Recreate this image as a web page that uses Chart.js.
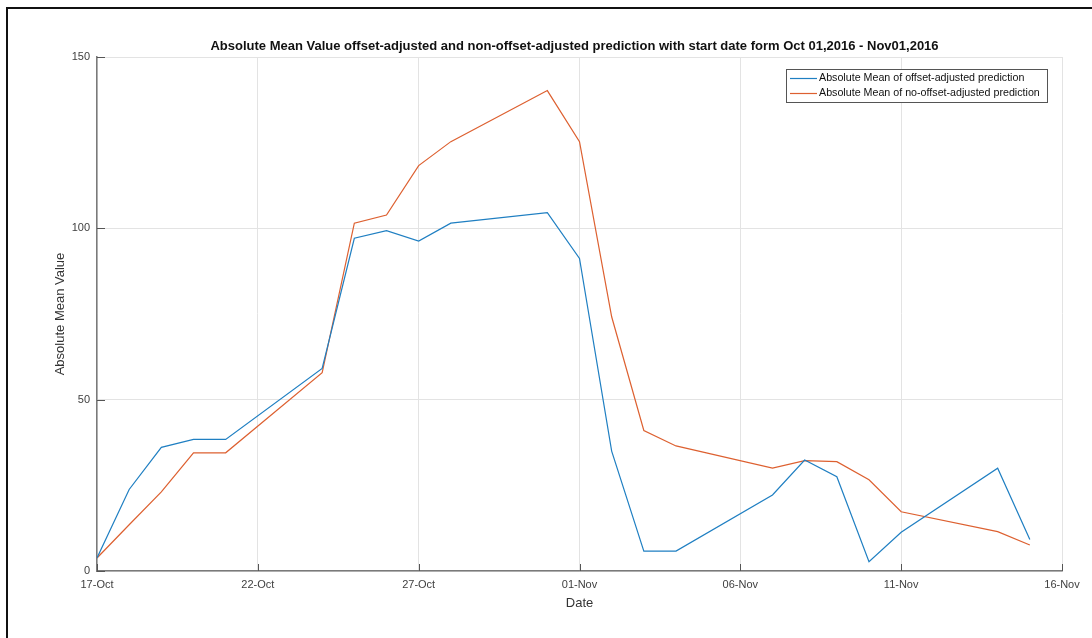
<!DOCTYPE html>
<html>
<head>
<meta charset="utf-8">
<script src="https://cdn.jsdelivr.net/npm/chart.js@4.4.0/dist/chart.umd.min.js"></script>
<style>
  html, body { margin: 0; padding: 0; background: #fff; }
  #wrap { position: relative; width: 1092px; height: 638px; overflow: hidden; }
  #frame {
    position: absolute; left: 6px; top: 7px; right: -4px; bottom: -4px;
    border-left: 2px solid #111; border-top: 2px solid #111;
    pointer-events: none;
  }
</style>
</head>
<body>
<div id="wrap">
  <canvas id="chart" width="1092" height="638"></canvas>
  <div id="frame"></div>
</div>
<script>
// days since 17-Oct (weekdays only)
const dayOffsets = [0, 1, 2, 3, 4, 7, 8, 9, 10, 11, 14, 15, 16, 17, 18, 21, 22, 23, 24, 25, 28, 29];
const offsetAdjusted = [3.8, 23.8, 36.1, 38.4, 38.4, 59.1, 97.1, 99.3, 96.3, 101.5, 104.6, 91.2, 35.0, 5.8, 5.8, 22.2, 32.4, 27.5, 2.7, 11.3, 30.0, 9.2];
const noOffsetAdjusted = [3.8, 13.5, 23.1, 34.5, 34.5, 57.9, 101.5, 103.9, 118.3, 125.3, 140.2, 125.3, 74.2, 41.0, 36.5, 30.0, 32.2, 31.9, 26.6, 17.3, 11.5, 7.6];
const tickLabels = ["17-Oct", "22-Oct", "27-Oct", "01-Nov", "06-Nov", "11-Nov", "16-Nov"];
const seriesNames = ["Absolute Mean of offset-adjusted prediction", "Absolute Mean of no-offset-adjusted prediction"];
const titleText = "Absolute Mean Value offset-adjusted and non-offset-adjusted prediction with start date form Oct 01,2016 - Nov01,2016";

const FONT = "'Liberation Sans', Arial, sans-serif";

function toPoints(values) {
  return dayOffsets.map((d, i) => ({ x: d, y: values[i] }));
}

// title, inward ticks and boxed legend, MATLAB style
const matlabBits = {
  id: "matlabBits",
  afterDraw(chart) {
    const ctx = chart.ctx;
    const area = chart.chartArea;
    const xs = chart.scales.x;
    const ys = chart.scales.y;

    ctx.save();
    // title
    ctx.fillStyle = "#111";
    ctx.font = "bold 13px " + FONT;
    ctx.textAlign = "center";
    ctx.textBaseline = "middle";
    ctx.fillText(titleText, (area.left + area.right) / 2 - 5, 46);

    // inward ticks
    ctx.strokeStyle = "#555";
    ctx.lineWidth = 1;
    xs.ticks.forEach(t => {
      const px = Math.round(xs.getPixelForValue(t.value)) + 0.5;
      ctx.beginPath();
      ctx.moveTo(px, area.bottom);
      ctx.lineTo(px, area.bottom - 7);
      ctx.stroke();
    });
    ys.ticks.forEach(t => {
      const py = Math.round(ys.getPixelForValue(t.value)) + 0.5;
      ctx.beginPath();
      ctx.moveTo(area.left, py);
      ctx.lineTo(area.left + 8, py);
      ctx.stroke();
    });

    // legend box
    const bx = area.right - 276, by = area.top + 12, bw = 261, bh = 33;
    ctx.fillStyle = "#fff";
    ctx.fillRect(bx, by, bw, bh);
    ctx.strokeStyle = "#555";
    ctx.lineWidth = 1;
    ctx.strokeRect(bx + 0.5, by + 0.5, bw, bh);
    ctx.font = "10.7px " + FONT;
    ctx.textAlign = "left";
    chart.data.datasets.forEach((ds, i) => {
      const ry = by + 9.5 + i * 15;
      ctx.strokeStyle = ds.borderColor;
      ctx.lineWidth = 1.2;
      ctx.beginPath();
      ctx.moveTo(bx + 4, ry);
      ctx.lineTo(bx + 31, ry);
      ctx.stroke();
      ctx.fillStyle = "#111";
      ctx.fillText(ds.label, bx + 33, ry);
    });
    ctx.restore();
  }
};

new Chart(document.getElementById("chart").getContext("2d"), {
  type: "line",
  data: {
    datasets: [
      {
        label: seriesNames[0],
        data: toPoints(offsetAdjusted),
        borderColor: "#1f7fc2",
        borderWidth: 1.2,
        pointRadius: 0,
        tension: 0,
        fill: false,
      },
      {
        label: seriesNames[1],
        data: toPoints(noOffsetAdjusted),
        borderColor: "#dd6030",
        borderWidth: 1.2,
        pointRadius: 0,
        tension: 0,
        fill: false,
      },
    ],
  },
  options: {
    responsive: false,
    animation: false,
    devicePixelRatio: 1,
    layout: { padding: { top: 57, right: 30, left: 0, bottom: 0 } },
    plugins: {
      legend: { display: false },
      title: { display: false },
      tooltip: { enabled: false },
    },
    scales: {
      x: {
        type: "linear",
        min: 0,
        max: 30,
        afterFit: s => { s.height = 67; },
        ticks: {
          stepSize: 5,
          padding: 7,
          maxRotation: 0,
          color: "#404040",
          font: { family: FONT, size: 11 },
          callback: v => tickLabels[v / 5],
        },
        grid: { color: "#e3e3e3", lineWidth: 1, drawTicks: false },
        border: { display: true, color: "#7a7a7a", width: 1.5 },
        title: {
          display: true,
          text: "Date",
          color: "#333",
          font: { family: FONT, size: 13 },
          padding: { top: 0, bottom: 27 },
        },
      },
      y: {
        min: 0,
        max: 150,
        afterFit: s => { s.width = 97; },
        ticks: {
          stepSize: 50,
          padding: 7,
          color: "#404040",
          font: { family: FONT, size: 11 },
        },
        grid: { color: "#e3e3e3", lineWidth: 1, drawTicks: false },
        border: { display: true, color: "#7a7a7a", width: 1.5 },
        title: {
          display: true,
          text: "Absolute Mean Value",
          color: "#333",
          font: { family: FONT, size: 13 },
          padding: { top: 53, bottom: 0 },
        },
      },
    },
  },
  plugins: [matlabBits],
});
</script>
</body>
</html>
